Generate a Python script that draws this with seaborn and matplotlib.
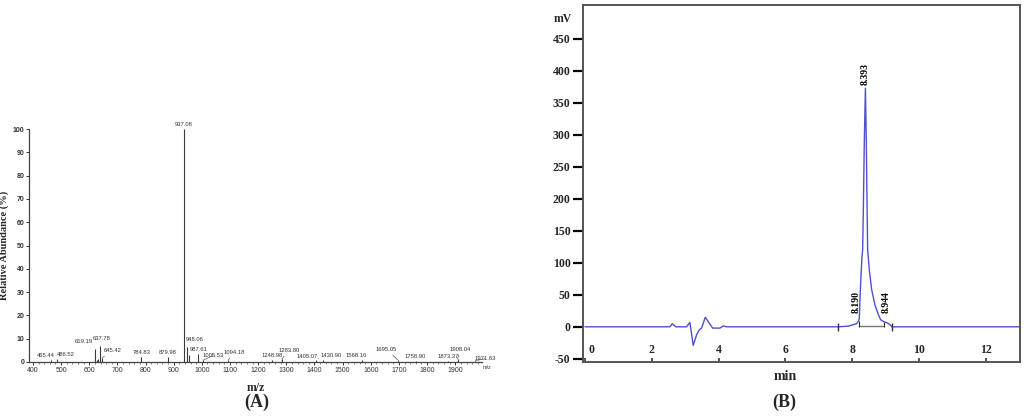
import numpy as np
import pandas as pd
import matplotlib
matplotlib.use('Agg')
import matplotlib.pyplot as plt
import matplotlib.transforms as mtransforms
import seaborn as sns
from matplotlib.ticker import MultipleLocator

sns.set_theme(style='white')
plt.rcParams['font.family'] = ['Liberation Sans', 'DejaVu Sans']
plt.rcParams['axes.unicode_minus'] = False

# (A) mass spectrum: peak m/z and relative abundance (%)
mz = [465.44, 486.52, 619.19, 626.0, 630.5, 637.78, 645.42, 784.83, 879.98,
      937.08, 948.06, 955.0, 987.61, 1005.53, 1094.18, 1248.98, 1283.80,
      1405.07, 1430.90, 1568.16, 1695.05, 1758.90, 1873.37, 1908.04, 1971.63]
abundance = [1.0, 1.2, 5.5, 1.0, 1.5, 7.0, 1.8, 2.0, 2.0,
             100.0, 6.6, 3.0, 3.5, 0.8, 1.0, 0.8, 1.2,
             0.8, 0.8, 0.8, 1.0, 0.6, 0.6, 1.2, 0.6]
peak_labels = {465.44: '465.44', 486.52: '486.52', 619.19: '619.19', 637.78: '637.78',
               645.42: '645.42', 784.83: '784.83', 879.98: '879.98', 937.08: '937.08',
               948.06: '948.06', 987.61: '987.61', 1005.53: '1005.53', 1094.18: '1094.18',
               1248.98: '1248.98', 1283.80: '1283.80', 1405.07: '1405.07,',
               1430.90: '1430.90', 1568.16: '1568.16', 1695.05: '1695.05',
               1758.90: '1758.90', 1873.37: '1873.37', 1908.04: '1908.04',
               1971.63: '1971.63'}

# (B) chromatogram trace: retention time (min) and detector signal (mV)
ret_time = [0.0, 2.54, 2.61, 2.72, 3.04, 3.14, 3.24, 3.34, 3.42, 3.49, 3.60, 3.69,
            3.82, 4.04, 4.14, 4.24, 7.58, 7.88, 8.13, 8.19, 8.21, 8.23, 8.26, 8.29,
            8.31, 8.33, 8.36, 8.393, 8.42, 8.44, 8.46, 8.51, 8.58, 8.68, 8.78, 8.85,
            8.944, 9.05, 9.14, 9.18, 13.1]
signal = [0, 0, 4.7, 0, 0, 6.8, -29, -12.5, -4.7, -2, 15, 8,
          -2, -2, 1.5, 0, 0, 1, 5, 9, 13, 42, 79, 110,
          120, 180, 290, 373, 290, 200, 120, 89, 58, 34, 19, 11,
          8, 6, 3, 0, 0]
rt_labels = [8.190, 8.393, 8.944]
rt_label_mv = [9, 373, 8]
event_times = [7.58, 9.18]

fig = plt.figure(figsize=(10.24, 4.16), dpi=100)
W, H = 1024, 416

# ---------------- panel A ----------------
axA = fig.add_axes([29 / W, 1 - 362 / H, (482 - 29) / W, (362 - 129) / H])
axA.vlines(mz, 0, abundance, color='#3a3a3a', lw=0.8)
axA.set_xlim(386, 1995)
axA.set_ylim(0, 100)
axA.set_xticks(np.arange(400, 2000, 100))
axA.xaxis.set_minor_locator(MultipleLocator(20))
axA.yaxis.set_major_locator(MultipleLocator(10))
for side in ['top', 'right']:
    axA.spines[side].set_visible(False)
for side in ['left', 'bottom']:
    axA.spines[side].set_color('#444444')
    axA.spines[side].set_linewidth(0.9)
axA.tick_params(axis='both', which='major', direction='out', length=2.5, width=0.7,
                colors='#333333', labelsize=5, pad=1, left=True, bottom=True)
axA.tick_params(axis='x', which='minor', direction='out', length=1.5, width=0.5,
                colors='#555555', bottom=True)
for lab in axA.get_yticklabels():
    lab.set_fontweight('bold')
axA.set_ylabel('Relative Abundance (%)', family='Liberation Serif', fontweight='bold',
               fontsize=7.5)
axA.yaxis.set_label_coords(-20 / 453, 0.5)
axA.set_xlabel('m/z', family='Liberation Serif', fontweight='bold', fontsize=8.5, labelpad=6)

# label nudges (points) and which labels get a short leader line
nudges = {465.44: (-4, 0), 486.52: (6, 0), 619.19: (-8, 2), 637.78: (1, 2), 645.42: (8, 2),
          948.06: (5, 2), 1005.53: (7, 0), 1094.18: (4, 2), 1283.80: (5, 3),
          1405.07: (-6, 0), 1430.90: (6, 0), 1568.16: (-4, 0), 1695.05: (-8, 4),
          1908.04: (2, 4), 1971.63: (7, -2)}
leaders = {645.42, 1005.53, 1094.18, 1283.80, 1695.05, 1908.04, 1971.63}
for x, y in zip(mz, abundance):
    if x not in peak_labels:
        continue
    dx, dy = nudges.get(x, (0, 0))
    arrow = dict(arrowstyle='-', color='#555555', lw=0.5, shrinkA=0, shrinkB=0) if x in leaders else None
    axA.annotate(peak_labels[x], (x, y), xytext=(dx, dy + 1.5), textcoords='offset points',
                 ha='center', va='bottom', fontsize=4.2, color='#333333',
                 arrowprops=arrow, annotation_clip=False)
axA.annotate('m/z', (1971.63, 0), xytext=(8, -4), textcoords='offset points',
             ha='center', va='center', fontsize=4, color='#333333', annotation_clip=False)

# ---------------- panel B ----------------
axB = fig.add_axes([583 / W, 1 - 362 / H, (1020 - 583) / W, (362 - 5) / H])
trace = pd.DataFrame({'time': ret_time, 'mV': signal})
sns.lineplot(data=trace, x='time', y='mV', ax=axB, color='#4f4fd2', lw=1.0,
             estimator=None, sort=False)
axB.set_xlim(-0.06, 13.02)
axB.set_ylim(-55, 503)
axB.set_xticks(np.arange(0, 13, 2))
axB.set_yticks(np.arange(-50, 451, 50))
for side in axB.spines.values():
    side.set_color('#555555')
    side.set_linewidth(1.4)
axB.tick_params(axis='y', direction='out', length=7, width=1.6, color='black',
                labelsize=8.5, pad=2, left=True)
axB.tick_params(axis='x', direction='in', length=3, width=1.2, color='#333333',
                labelsize=8.5, pad=-13, bottom=True)
for lab in axB.get_xticklabels() + axB.get_yticklabels():
    lab.set_family('Liberation Serif')
    lab.set_fontweight('bold')
axB.set_xlabel('')
axB.set_ylabel('')
# the "0" label sits a little right of its tick in the original
first = axB.xaxis.get_major_ticks()[0].label1
first.set_transform(first.get_transform() + mtransforms.ScaledTranslation(6 / 100, 0, fig.dpi_scale_trans))

# integration baseline and event marks
axB.plot([rt_labels[0], rt_labels[2]], [1, 1], color='#777777', lw=1.0)
axB.vlines([rt_labels[0], rt_labels[2]], 0, [rt_label_mv[0], rt_label_mv[2]],
           color='#333333', lw=0.8)
axB.plot(event_times, [0, 0], ls='none', marker='|', ms=6, mew=1.0, color='#333333')

label_offsets = [(-2, 6), (0, 2), (2, 6)]
for t, v, (dx, dy) in zip(rt_labels, rt_label_mv, label_offsets):
    axB.annotate(f'{t:.3f}', (t, v), xytext=(dx, dy), textcoords='offset points',
                 rotation=90, ha='center', va='bottom', fontsize=7,
                 family='Liberation Serif', fontweight='bold', color='black')

fig.text(563 / W, 1 - 19 / H, 'mV', ha='center', va='center', family='Liberation Serif',
         fontweight='bold', fontsize=8.5)
fig.text(785 / W, 1 - 376 / H, 'min', ha='center', va='center', family='Liberation Serif',
         fontweight='bold', fontsize=10)
fig.text(257 / W, 1 - 402 / H, '(A)', ha='center', va='center', family='Liberation Serif',
         fontweight='bold', fontsize=13)
fig.text(784 / W, 1 - 402 / H, '(B)', ha='center', va='center', family='Liberation Serif',
         fontweight='bold', fontsize=13)

fig.savefig('out.png', dpi=100, facecolor='white')
